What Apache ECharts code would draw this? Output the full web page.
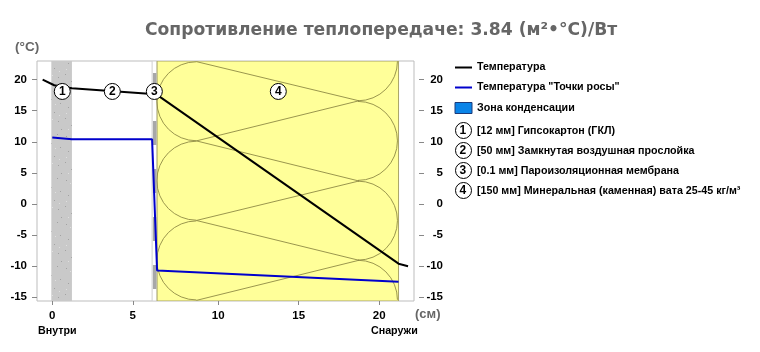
<!DOCTYPE html>
<html>
<head>
<meta charset="utf-8">
<style>
  html, body { margin: 0; padding: 0; background: #fff; }
  #chart { width: 760px; height: 352px; }
</style>
<script src="https://cdn.jsdelivr.net/npm/echarts@6/dist/echarts.min.js"></script>
</head>
<body>
<div id="chart"></div>
<script>
// Значения оси X: мембрана нарисована шире своей толщины, поэтому после неё шкала сдвинута на 0.31
const xTickPositions = [0, 5, 10.31, 15.31, 20.31];
const xTickLabels = ['0', '5', '10', '15', '20'];
const yTicks = [-15, -10, -5, 0, 5, 10, 15, 20];

const tempX = [-0.6, 0.12, 1.22, 6.2, 6.51, 21.51, 22.1];
const tempY = [20, 19.1, 18.6, 17.7, 17.55, -9.6, -10];
const dewX = [0, 1.22, 6.2, 6.51, 21.51];
const dewY = [10.7, 10.4, 10.4, -10.7, -12.5];

const gypsumBand = [-0.06, 1.22];
const membraneBand = [6.2, 6.51];
const woolBand = [6.51, 21.51];

// Волокна ваты: точки стыка дуг
const woolLeftX = 8.95;
const woolRightX = 19.05;
const woolLeftY = [22.9, 10.15, -2.65, -15.5];
const woolRightY = [16.6, 3.7, -9.05];

const markerNames = ['1', '2', '3', '4'];
const markerX = [0.62, 3.73, 6.34, 14.04];
const markerY = [18.1, 18.1, 18.1, 18.1];

const seriesNames = ['Температура', 'Температура "Точки росы"', 'Зона конденсации'];
const layerNames = [
  '[12 мм] Гипсокартон (ГКЛ)',
  '[50 мм] Замкнутая воздушная прослойка',
  '[0.1 мм] Пароизоляционная мембрана',
  '[150 мм] Минеральная (каменная) вата 25-45 кг/м³'
];

const textFont = '"Liberation Sans", Arial, sans-serif';
const titleFont = '"DejaVu Sans", sans-serif';

// Текстура гипсокартона
const makeGypsumPattern = () => {
  const canvas = document.createElement('canvas');
  canvas.width = 21;
  canvas.height = 44;
  const ctx = canvas.getContext('2d');
  ctx.fillStyle = '#c9c9c9';
  ctx.fillRect(0, 0, 21, 44);
  ctx.fillStyle = '#a2a2a2';
  [[3, 4], [15, 2], [9, 11], [18, 15], [5, 19], [12, 24], [2, 30], [16, 33], [8, 37], [19, 41]].forEach(p => {
    ctx.fillRect(p[0], p[1], 1, 1);
  });
  ctx.fillStyle = '#e0e0e0';
  [[7, 7], [13, 16], [3, 25], [10, 31], [17, 27], [5, 41]].forEach(p => {
    ctx.fillRect(p[0], p[1], 1, 1);
  });
  return canvas;
};
const gypsumPattern = makeGypsumPattern();

const bandSeries = (band, style, z) => ({
  type: 'custom',
  silent: true,
  z: z,
  clip: true,
  data: [band],
  renderItem: (params, api) => {
    const p0 = api.coord([api.value(0), 23]);
    const p1 = api.coord([api.value(1), -15.6]);
    return { type: 'rect', shape: { x: p0[0], y: p0[1], width: p1[0] - p0[0], height: p1[1] - p0[1] }, style: style };
  }
});

// Волокна: дуги слева и справа, между ними прямые
const renderWool = (params, api) => {
  const children = [];
  const stroke = { stroke: '#8f8a45', lineWidth: 0.9, fill: null };
  const r = 39.5;
  const left = woolLeftY.map(v => api.coord([woolLeftX, v]));
  const right = woolRightY.map(v => api.coord([woolRightX, v]));
  for (let i = 0; i < left.length - 1; i++) {
    const cy = (left[i][1] + left[i + 1][1]) / 2;
    children.push({ type: 'arc', shape: { cx: left[i][0], cy: cy, r: r, startAngle: Math.PI / 2, endAngle: Math.PI * 1.5, clockwise: true }, style: stroke });
  }
  for (let i = 0; i < right.length - 1; i++) {
    const cy = (right[i][1] + right[i + 1][1]) / 2;
    children.push({ type: 'arc', shape: { cx: right[i][0] - 1, cy: cy, r: r, startAngle: -Math.PI / 2, endAngle: Math.PI / 2, clockwise: true }, style: stroke });
  }
  children.push({ type: 'arc', shape: { cx: right[0][0] - 1, cy: right[0][1] - r, r: r, startAngle: 0, endAngle: Math.PI / 2, clockwise: true }, style: stroke });
  const last = right[right.length - 1];
  children.push({ type: 'arc', shape: { cx: last[0] - 1, cy: last[1] + r, r: r, startAngle: -Math.PI / 2, endAngle: 0, clockwise: true }, style: stroke });
  for (let i = 0; i < right.length; i++) {
    children.push({ type: 'line', shape: { x1: left[i][0], y1: left[i][1], x2: right[i][0], y2: right[i][1] }, style: stroke });
    children.push({ type: 'line', shape: { x1: right[i][0], y1: right[i][1], x2: left[i + 1][0], y2: left[i + 1][1] }, style: stroke });
  }
  return { type: 'group', children: children };
};

const legendRows = [];
layerNames.forEach((name, i) => {
  const y = 130 + i * 20;
  legendRows.push({
    type: 'circle', left: 455, top: y - 8,
    shape: { r: 8 },
    style: { fill: '#fff', stroke: '#000', lineWidth: 1 }
  });
  legendRows.push({
    type: 'text', left: 459.5, top: y - 5,
    style: { text: markerNames[i], font: 'bold 12px ' + textFont, fill: '#000' }
  });
  legendRows.push({
    type: 'text', left: 477, top: y - 4,
    style: { text: name, font: 'bold 10.7px ' + textFont, fill: '#000' }
  });
});

const chart = echarts.init(document.getElementById('chart'), null, { renderer: 'canvas' });

const option = {
  animation: false,
  backgroundColor: '#fff',
  grid: { left: 37, top: 61, width: 377, height: 240, show: true, borderColor: '#bdbdbd', borderWidth: 1, backgroundColor: '#fff' },
  title: {
    text: 'Сопротивление теплопередаче: 3.84 (м²•°C)/Вт',
    left: 145,
    top: 22,
    padding: 0,
    textStyle: { fontFamily: titleFont, fontWeight: 'bold', fontSize: 17.15, color: '#666' }
  },
  legend: {
    orient: 'vertical',
    left: 449,
    top: 57,
    itemWidth: 17,
    itemHeight: 11,
    itemGap: 9,
    selectedMode: false,
    textStyle: { fontFamily: textFont, fontWeight: 'bold', fontSize: 10.7, color: '#000' },
    data: [
      { name: seriesNames[0], itemStyle: { opacity: 0 } },
      { name: seriesNames[1], itemStyle: { opacity: 0 } },
      { name: seriesNames[2], icon: 'rect', itemStyle: { color: '#0a84e8', borderColor: '#1a3a7a', borderWidth: 1 } }
    ]
  },
  xAxis: {
    type: 'value',
    min: -0.95,
    max: 22.47,
    splitLine: { show: false },
    axisLine: { show: false, onZero: false },
    axisTick: { show: true, length: 4, customValues: xTickPositions, lineStyle: { color: '#888' } },
    axisLabel: {
      customValues: xTickPositions,
      margin: 9,
      formatter: v => xTickLabels[xTickPositions.indexOf(v)],
      fontFamily: textFont, fontWeight: 'bold', fontSize: 11.5, color: '#000'
    }
  },
  yAxis: [
    {
      type: 'value',
      min: -15.6,
      max: 23,
      splitLine: { show: false },
      axisLine: { show: false, onZero: false },
      axisTick: { show: true, length: 5, customValues: yTicks, lineStyle: { color: '#888' } },
      axisLabel: { customValues: yTicks, margin: 10, fontFamily: textFont, fontWeight: 'bold', fontSize: 11.5, color: '#000' }
    },
    {
      type: 'value',
      position: 'right',
      offset: 5,
      min: -15.6,
      max: 23,
      splitLine: { show: false },
      axisLine: { show: false, onZero: false },
      axisTick: { show: true, length: 5, customValues: yTicks, lineStyle: { color: '#888' } },
      axisLabel: { customValues: yTicks, margin: 24, align: 'right', fontFamily: textFont, fontWeight: 'bold', fontSize: 11.5, color: '#000' }
    }
  ],
  graphic: [
    { type: 'text', left: 15, top: 40, style: { text: '(°C)', font: 'bold 13.5px ' + textFont, fill: '#666' } },
    { type: 'text', left: 415, top: 308, style: { text: '(см)', font: 'bold 13px ' + textFont, fill: '#666' } },
    { type: 'text', left: 38, top: 326, style: { text: 'Внутри', font: 'bold 10.7px ' + textFont, fill: '#000' } },
    { type: 'text', left: 371, top: 326, style: { text: 'Снаружи', font: 'bold 10.7px ' + textFont, fill: '#000' } }
  ].concat(legendRows),
  series: [
    bandSeries(gypsumBand, { fill: { image: gypsumPattern, repeat: 'repeat' } }, 1),
    bandSeries(membraneBand, { fill: '#fff', stroke: '#cfcfcf', lineWidth: 1 }, 1),
    bandSeries(woolBand, { fill: '#ffff99', stroke: '#aaa566', lineWidth: 1 }, 1),
    {
      type: 'line',
      silent: true,
      z: 2,
      symbol: 'none',
      data: [[6.36, 23], [6.36, -15.6]],
      lineStyle: { color: '#a8a8a8', width: 3.5, type: [24, 24], dashOffset: 36, cap: 'butt' }
    },
    { type: 'custom', silent: true, z: 2, data: [[0]], renderItem: renderWool },
    {
      name: seriesNames[0],
      type: 'line',
      z: 3,
      symbol: 'none',
      data: tempX.map((x, i) => [x, tempY[i]]),
      lineStyle: { color: '#000', width: 2 },
      itemStyle: { color: '#000' }
    },
    {
      name: seriesNames[1],
      type: 'line',
      z: 3,
      symbol: 'none',
      data: dewX.map((x, i) => [x, dewY[i]]),
      lineStyle: { color: '#0000cc', width: 2 },
      itemStyle: { color: '#0000cc' }
    },
    {
      name: seriesNames[2],
      type: 'line',
      z: 3,
      symbol: 'none',
      data: [],
      itemStyle: { color: '#0a84e8' }
    },
    {
      type: 'scatter',
      silent: true,
      z: 4,
      symbolSize: 16,
      data: markerX.map((x, i) => [x, markerY[i], markerNames[i]]),
      itemStyle: { color: '#fff', borderColor: '#000', borderWidth: 1, opacity: 1 },
      label: {
        show: true,
        position: 'inside',
        formatter: p => p.value[2],
        fontFamily: textFont, fontWeight: 'bold', fontSize: 12, color: '#000'
      }
    }
  ]
};

chart.setOption(option);
</script>
</body>
</html>
